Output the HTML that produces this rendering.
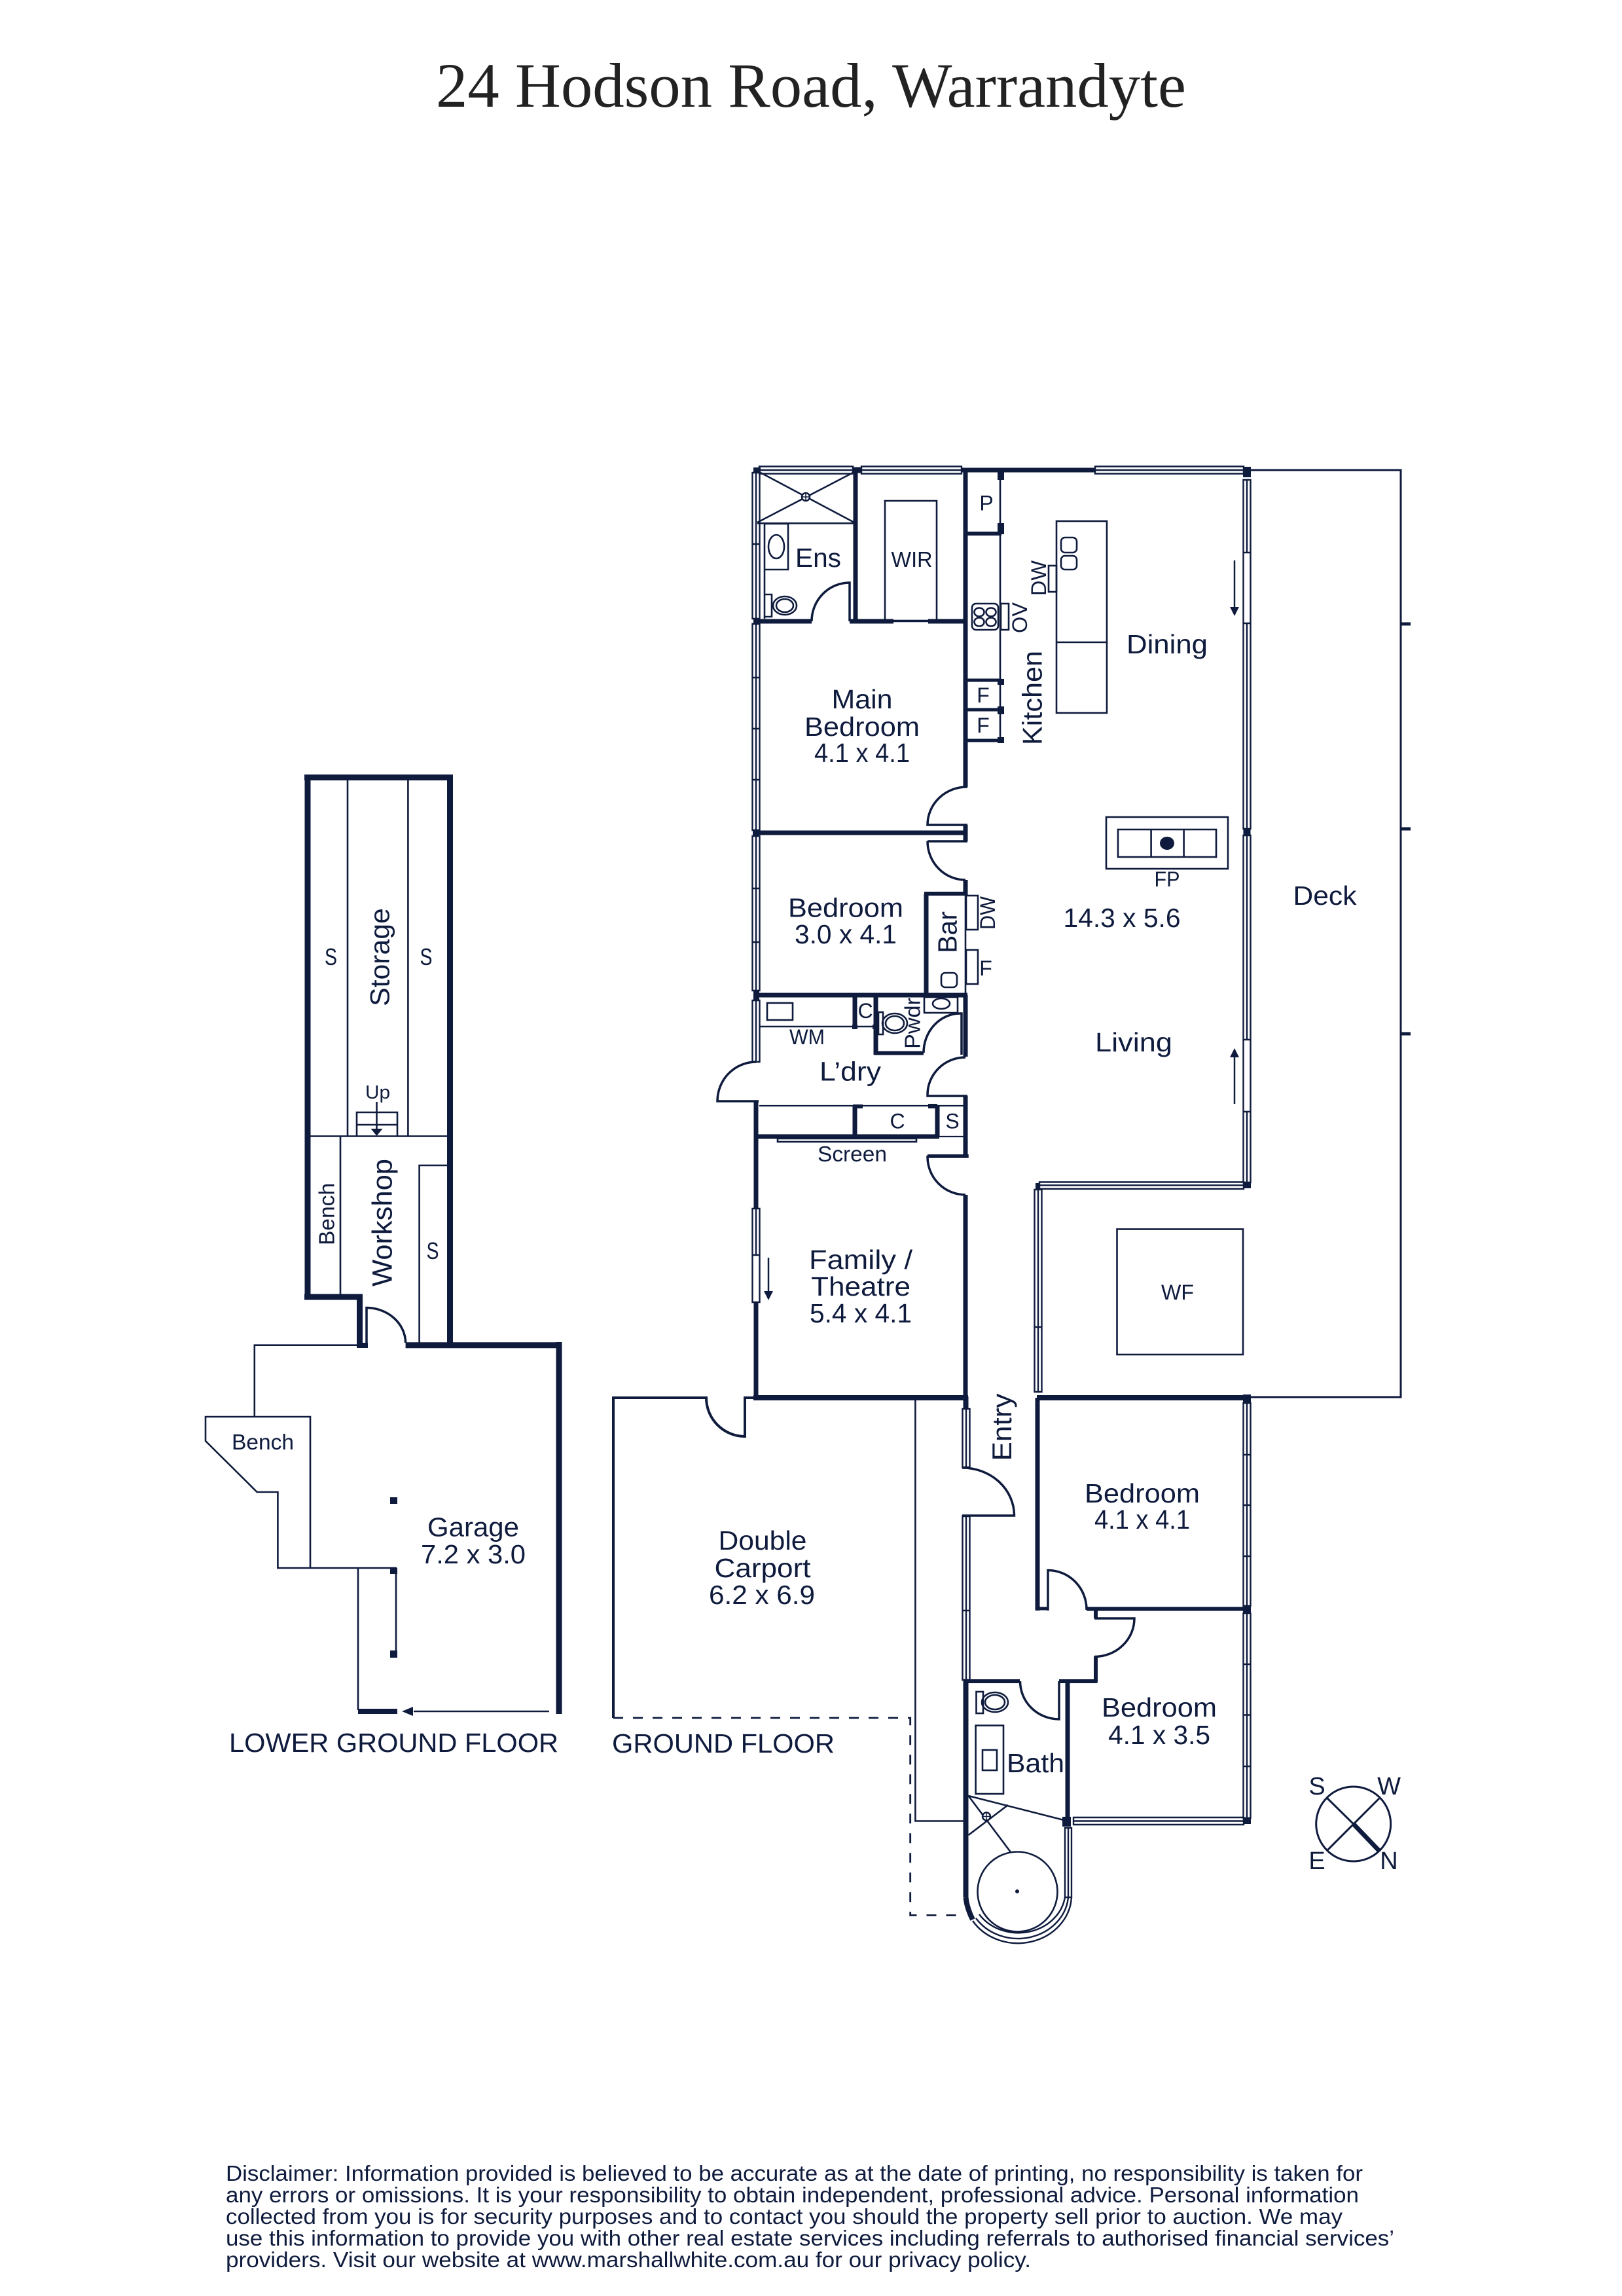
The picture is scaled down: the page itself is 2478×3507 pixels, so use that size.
<!DOCTYPE html>
<html lang="en"><head><meta charset="utf-8"><title>24 Hodson Road, Warrandyte</title>
<style>
html,body{margin:0;padding:0;background:#fff}
svg{display:block}
text{font-family:"Liberation Sans",sans-serif;fill:#0f1b3d;font-size:41px}
.c{text-anchor:middle}
.s{font-size:32px}
.f{fill:none;stroke:#0f1b3d;stroke-linecap:butt}
.t{stroke-width:2.6}
.w{stroke-width:2.4;fill:#fff}
.b{fill:#0f1b3d}
</style></head><body>
<svg width="2478" height="3507" viewBox="0 0 2478 3507" xmlns="http://www.w3.org/2000/svg">
<rect width="2478" height="3507" fill="#fff"/>
<text x="666" y="163" textLength="1146" lengthAdjust="spacingAndGlyphs" style="font-family:'Liberation Serif',serif;font-size:96px;fill:#222">24 Hodson Road, Warrandyte</text>

<!-- LOWER GROUND FLOOR -->
<g class="f">
<path stroke-width="9" d="M470 1183V1985M465 1981H554M549.5 1977V2059M687.5 1183V2056M465 1187.5H692M619.6 2054.7H858M854 2050V2618"/>
<path class="t" d="M531 1192V1735M623.4 1192V1735M474 1735.5H683M520 1735V1978M640.6 2051V1780H683"/>
<path class="t" d="M545 1735V1699H607V1735M545 1718H607M575.5 1683V1725"/>
<path stroke-width="3.5" d="M560 2059V1997.5A60 54 0 0 1 619.6 2051"/>
<path class="t" d="M545 2054.7H388.8V2164M314 2164H474V2395H424.4V2279H392.6L314 2201ZM424 2395H606M547 2395V2612M605 2400V2525M632 2614H839"/>
</g>
<path class="b" d="M575.5 1735l-9-11h18zM614 2614l17-7v14zM545 2051h17v8h-17zM596 2287h11v10h-11zM596 2395h11v9h-11zM596 2521h11v11h-11zM547 2610h60v8h-60z"/>
<text class="c s" x="577" y="1678" style="font-size:29px" textLength="38" lengthAdjust="spacingAndGlyphs">Up</text>
<text class="c" x="505.5" y="1474" style="font-size:36px" textLength="19" lengthAdjust="spacingAndGlyphs">S</text>
<text class="c" x="651" y="1474" style="font-size:36px" textLength="19" lengthAdjust="spacingAndGlyphs">S</text>
<text class="c" x="661" y="1923" style="font-size:36px" textLength="19" lengthAdjust="spacingAndGlyphs">S</text>
<text class="c" transform="translate(594.7 1462) rotate(-90)" style="font-size:42px" textLength="150" lengthAdjust="spacingAndGlyphs">Storage</text>
<text class="c" transform="translate(598.5 1867.5) rotate(-90)" style="font-size:43px" textLength="195" lengthAdjust="spacingAndGlyphs">Workshop</text>
<text class="c" transform="translate(510.5 1854.5) rotate(-90)" style="font-size:33px" textLength="95" lengthAdjust="spacingAndGlyphs">Bench</text>
<text class="c" x="401.5" y="2214" style="font-size:33px" textLength="95" lengthAdjust="spacingAndGlyphs">Bench</text>
<text class="c" x="723" y="2346.6" textLength="140" lengthAdjust="spacingAndGlyphs">Garage</text>
<text class="c" x="723" y="2388" textLength="160" lengthAdjust="spacingAndGlyphs">7.2 x 3.0</text>
<text x="350" y="2676" textLength="503" lengthAdjust="spacingAndGlyphs">LOWER GROUND FLOOR</text>
<text x="935" y="2677" textLength="340" lengthAdjust="spacingAndGlyphs">GROUND FLOOR</text>

<!-- CARPORT / DECK -->
<g class="f">
<path stroke-width="4" d="M937 2624V2135H1079A59 59 0 0 0 1138 2194V2135H1151"/>
<path stroke-width="2.8" stroke-dasharray="15 15" d="M937 2624H1390.7V2925.5H1472"/>
<path class="t" d="M1398.4 2137V2781.5H1472"/>
<path stroke-width="3" d="M1910 718H2140V2134H1903"/>
<path stroke-width="5" d="M2140 953H2155M2140 1266H2155M2140 1579H2155"/>
</g>
<text class="c" x="1165" y="2367" textLength="135" lengthAdjust="spacingAndGlyphs">Double</text>
<text class="c" x="1165" y="2409" textLength="147" lengthAdjust="spacingAndGlyphs">Carport</text>
<text class="c" x="1164" y="2450" textLength="162" lengthAdjust="spacingAndGlyphs">6.2 x 6.9</text>
<text class="c" x="2024" y="1382" textLength="97" lengthAdjust="spacingAndGlyphs">Deck</text>

<!-- WINDOWS -->
<path class="f w" d="M1149.5 722V945H1160.5V722ZM1155 722V945M1149.5 831H1160.5
M1149.5 953V1268H1160.5V953ZM1155 953V1268M1149.5 1035H1160.5M1149.5 1113H1160.5M1149.5 1191H1160.5
M1149.5 1277V1513H1160.5V1277ZM1155 1277V1513M1149.5 1357H1160.5M1149.5 1439H1160.5
M1149.5 1528V1622H1160.5V1528ZM1155 1528V1622
M1149.5 1846V1989H1160.5V1846ZM1155 1846V1917M1149.5 1917H1160.5
M1899.5 733V1266H1910.5V733ZM1905 733V844M1905 952V1266
M1899.5 844H1910.5V952H1899.5Z
M1899.5 1276V1806H1910.5V1276ZM1905 1276V1588M1905 1698V1806
M1899.5 1588H1910.5V1698H1899.5Z
M1899.5 2143V2453H1910.5V2143ZM1905 2143V2453M1899.5 2222H1910.5M1899.5 2299H1910.5M1899.5 2377H1910.5
M1899.5 2464V2777H1910.5V2464ZM1905 2464V2777M1899.5 2542H1910.5M1899.5 2619.5H1910.5M1899.5 2698H1910.5
M1580.5 1817V2126H1591.5V1817ZM1586 1817V2126M1580.5 2027H1591.5
M1470.5 2152V2241H1481.5V2152ZM1476 2152V2241
M1470.5 2316V2566H1481.5V2316ZM1476 2316V2566M1470.5 2460H1481.5
M1627 2792V2898H1637V2792ZM1632 2792V2898M1627 2898H1637
M1160 712.5H1303V723.5H1160ZM1160 718H1303
M1316 712.5H1469V723.5H1316ZM1316 718H1469
M1673 712.5H1900V723.5H1673ZM1673 718H1900
M1588 1805.5H1900V1816H1588ZM1588 1810.5H1900
M1640 2776H1900V2787H1640ZM1640 2781.5H1900"/>

<!-- WALLS -->
<g class="f">
<path stroke-width="7" d="M1469 718H1673M1307 718V949M1155 949H1240M1298 949H1365M1418 949H1478M1475 718V1202M1155 1272H1478M1475 1260V1285M1475 1344V1368M1415 1365V1520M1155 1520H1478M1306 1520V1571M1338 1520V1611M1475 1520V1614M1475 1674V1767M1155 1682V1846M1155 1989V2135M1306 1689V1736M1432 1689V1736M1155 1736H1435M1475 1825V2135M1585 2135V2460M1631 2568V2782"/>
<path stroke-width="6" d="M1475 815H1530M1412 1365H1478M1335 1608.5H1411M1473 2568H1558M1618 2568H1676M1674 2530V2570M1660 2457.5H1903M1674 2457V2472"/>
<path stroke-width="5" d="M1475 1039H1530M1475 1084H1530M1475 1131H1530M1583 2457H1601"/>
<path stroke-width="8" d="M1151 2135H1479M1584 2135H1903M1475.5 2133V2152M1475.5 2565V2898"/>
<path stroke-width="8" d="M1475.5 2898Q1477 2914 1486 2932"/>
<path stroke-width="3.5" d="M1478 1202A60 58 0 0 0 1417 1260H1478M1417 1285H1478M1417 1285A58 59 0 0 0 1475 1344
M1240 949A58 59 0 0 1 1298 890V949
M1411 1608A56 60 0 0 1 1467 1548H1469V1611
M1475 1615A58 57 0 0 0 1417 1672V1674H1478M1417 1765H1478V1767H1417A58 58 0 0 0 1475 1825
M1155 1622A59 60 0 0 0 1096 1682H1159
M1470 2242A79 73 0 0 1 1549.5 2315H1470
M1601 2460V2398.5A59 60 0 0 1 1660 2459
M1672 2472H1733A61 58.5 0 0 1 1672 2530.5
M1558.5 2568A59.5 58 0 0 0 1618 2626V2568"/>
<path class="t" d="M1528 722V1135M1475 1365V1520M1160 1568H1303M1310 1568H1340M1472 1689"/>
<path stroke-width="2.3" d="M1160 1689H1472M1435 1736H1472"/>
<path stroke-width="2.4" d="M1486 2934A82 74 0 0 0 1637 2898M1491 2930A77 69 0 0 0 1632 2898M1496 2924A72 64 0 0 0 1627 2898"/>
</g>
<path class="b" d="M1151 714h11v8h-11zM1302 713.5h13v9h-13zM1899 713h12v16h-12zM1524 715h10v18h-10zM1524 799h10v17h-10zM1524 1037h10v9h-10zM1524 1079h10v12h-10zM1524 1126h10v9h-10zM1151 945h9v9h-9zM1150 1267h10v10h-10zM1899.5 1266h11v10h-11zM1151 1514h9v14h-9zM1582 1807h7v11h-7zM1899 1806h12v9h-12zM1899 2130h12v13h-12zM1899 2453h12v11h-12zM1899 2776h12v10h-12zM1623 2775h13v15h-13zM1303 1687h15v6h-15zM1418 1686h14v7h-14zM1302 1565h8v7h-8zM1333 1565h8v7h-8z"/>

<!-- FIXTURES -->
<g class="f t">
<path d="M1162 722L1305 798M1303 722L1157 798M1157 799.3H1305"/>
<path d="M1168 800H1204V870H1168ZM1168 870V945M1168 908H1179V942H1168"/>
<ellipse cx="1186" cy="835" rx="12" ry="18"/>
<ellipse cx="1199" cy="925" rx="18" ry="14"/><ellipse cx="1199" cy="925" rx="13" ry="10"/>
<rect x="1352" y="765" width="79" height="183"/>
<path d="M1365 949H1418"/>
<rect x="1485" y="922" width="40" height="40" rx="6"/>
<ellipse cx="1496" cy="935" rx="7.5" ry="6.5"/><ellipse cx="1514" cy="935" rx="7.5" ry="6.5"/><ellipse cx="1496" cy="950" rx="7.5" ry="6.5"/><ellipse cx="1514" cy="950" rx="7.5" ry="6.5"/>
<rect x="1529" y="922" width="12" height="40"/>
<rect x="1602" y="864" width="12" height="40"/>
<rect x="1614" y="796" width="77" height="293"/><path d="M1614 981H1691"/>
<rect x="1621" y="821" width="24" height="23" rx="6"/><rect x="1621" y="849" width="24" height="21" rx="6"/>
<rect x="1690" y="1248" width="186" height="79"/><rect x="1708" y="1267" width="150" height="42"/>
<path d="M1758.6 1267V1309M1808.6 1267V1309"/>
<rect x="1476" y="1368" width="18" height="52"/><rect x="1476" y="1451" width="18" height="52"/>
<rect x="1438" y="1486" width="24" height="22" rx="6"/>
<rect x="1172" y="1532" width="39" height="26"/>
<rect x="1412" y="1523" width="51" height="24"/><ellipse cx="1438" cy="1533" rx="13" ry="8"/>
<rect x="1342" y="1546" width="7" height="34"/><ellipse cx="1367" cy="1563" rx="19" ry="15"/><ellipse cx="1367" cy="1563" rx="14" ry="11"/>
<rect x="1188" y="1739" width="212" height="5"/>
<rect x="1706.5" y="1877.5" width="192.5" height="191.5"/>
<rect x="1491.5" y="2584" width="10.5" height="33"/><ellipse cx="1520" cy="2600" rx="20" ry="15"/><ellipse cx="1520" cy="2600" rx="15" ry="11"/>
<rect x="1490.6" y="2635.6" width="42.4" height="104.4"/><rect x="1501" y="2673" width="22" height="31"/>
<path d="M1479.5 2743L1629 2781M1479.5 2743L1544 2829M1479.5 2803L1540 2757"/>
<circle cx="1554.5" cy="2889.5" r="61"/>
<circle cx="2067.7" cy="2786" r="57" stroke-width="3"/>
<path stroke-width="3" d="M2027 2746L2067.7 2786M2107 2747L2028 2826"/>
<path stroke-width="7" d="M2067.7 2786L2107 2827"/>
<path stroke-width="2.5" d="M1886 856V930M1886 1612V1686M1174 1921V1975"/>
</g>
<circle cx="1231" cy="759" r="6" fill="#fff" stroke="#0f1b3d" stroke-width="2.5"/>
<path class="f" stroke-width="1.5" d="M1225 759H1237M1231 753V765"/>
<circle cx="1507" cy="2774.5" r="6" fill="#fff" stroke="#0f1b3d" stroke-width="2.5"/>
<path class="f" stroke-width="1.5" d="M1501 2774.5H1513M1507 2768.5V2780.5"/>
<ellipse class="b" cx="1783" cy="1288" rx="11" ry="10"/>
<circle class="b" cx="1554" cy="2889" r="3"/>
<path class="b" d="M1886 941l-7-14h14zM1886 1601l-7 14h14zM1174 1986l-7-14h14z"/>

<!-- LABELS -->
<text class="c" x="1250" y="866" textLength="70" lengthAdjust="spacingAndGlyphs">Ens</text>
<text class="c s" x="1393" y="866" style="font-size:33px" textLength="63" lengthAdjust="spacingAndGlyphs">WIR</text>
<text class="c s" x="1507" y="779.5">P</text>
<text class="c s" x="1502" y="1073">F</text>
<text class="c s" x="1502" y="1119">F</text>
<text class="c s" transform="translate(1569 943.5) rotate(-90)" textLength="47" lengthAdjust="spacingAndGlyphs">OV</text>
<text class="c s" transform="translate(1598 883) rotate(-90)" textLength="54" lengthAdjust="spacingAndGlyphs">DW</text>
<text class="c" transform="translate(1591.7 1066) rotate(-90)" style="font-size:42px" textLength="144" lengthAdjust="spacingAndGlyphs">Kitchen</text>
<text class="c" x="1783" y="998" textLength="124" lengthAdjust="spacingAndGlyphs">Dining</text>
<text class="c" x="1317" y="1082" textLength="93" lengthAdjust="spacingAndGlyphs">Main</text>
<text class="c" x="1317" y="1124" textLength="176" lengthAdjust="spacingAndGlyphs">Bedroom</text>
<text class="c" x="1317" y="1164" textLength="146" lengthAdjust="spacingAndGlyphs">4.1 x 4.1</text>
<text class="c s" x="1783" y="1354" textLength="39" lengthAdjust="spacingAndGlyphs">FP</text>
<text class="c" x="1714" y="1416" textLength="179" lengthAdjust="spacingAndGlyphs">14.3 x 5.6</text>
<text class="c" x="1292" y="1400.5" textLength="176" lengthAdjust="spacingAndGlyphs">Bedroom</text>
<text class="c" x="1292" y="1441" textLength="156" lengthAdjust="spacingAndGlyphs">3.0 x 4.1</text>
<text class="c" transform="translate(1461.6 1424) rotate(-90)" textLength="64" lengthAdjust="spacingAndGlyphs">Bar</text>
<text class="c s" transform="translate(1520 1394.5) rotate(-90)" textLength="51" lengthAdjust="spacingAndGlyphs">DW</text>
<text class="c s" x="1506" y="1490">F</text>
<text class="c s" transform="translate(1405.5 1563) rotate(-90)" style="font-size:33px" textLength="78" lengthAdjust="spacingAndGlyphs">Pwdr</text>
<text class="c s" x="1322" y="1555">C</text>
<text class="c s" x="1233" y="1595" textLength="54" lengthAdjust="spacingAndGlyphs">WM</text>
<text class="c" x="1299" y="1650.7" textLength="94" lengthAdjust="spacingAndGlyphs">L’dry</text>
<text class="c s" x="1371" y="1723.5">C</text>
<text class="c s" x="1455" y="1723.5">S</text>
<text class="c" x="1302" y="1774" style="font-size:33px" textLength="106" lengthAdjust="spacingAndGlyphs">Screen</text>
<text class="c" x="1732" y="1606" textLength="118" lengthAdjust="spacingAndGlyphs">Living</text>
<text class="c" x="1315" y="1938" textLength="158" lengthAdjust="spacingAndGlyphs">Family /</text>
<text class="c" x="1315" y="1979" textLength="152" lengthAdjust="spacingAndGlyphs">Theatre</text>
<text class="c" x="1315" y="2020" textLength="156" lengthAdjust="spacingAndGlyphs">5.4 x 4.1</text>
<text class="c" x="1799" y="1985" style="font-size:32px" textLength="50" lengthAdjust="spacingAndGlyphs">WF</text>
<text class="c" transform="translate(1545 2180) rotate(-90)" style="font-size:42px" textLength="103" lengthAdjust="spacingAndGlyphs">Entry</text>
<text class="c" x="1745" y="2295" textLength="176" lengthAdjust="spacingAndGlyphs">Bedroom</text>
<text class="c" x="1745" y="2335" textLength="146" lengthAdjust="spacingAndGlyphs">4.1 x 4.1</text>
<text class="c" x="1771" y="2622" textLength="176" lengthAdjust="spacingAndGlyphs">Bedroom</text>
<text class="c" x="1771" y="2664" textLength="156" lengthAdjust="spacingAndGlyphs">4.1 x 3.5</text>
<text class="c" x="1582" y="2707" textLength="88" lengthAdjust="spacingAndGlyphs">Bath</text>
<text class="c" x="2012" y="2741" style="font-size:38px">S</text>
<text class="c" x="2122" y="2741" style="font-size:38px">W</text>
<text class="c" x="2012" y="2855" style="font-size:38px">E</text>
<text class="c" x="2122" y="2855" style="font-size:38px">N</text>

<!-- DISCLAIMER -->
<g style="font-size:33px">
<text x="345" y="3331" style="font-size:33px" textLength="1737" lengthAdjust="spacingAndGlyphs">Disclaimer: Information provided is believed to be accurate as at the date of printing, no responsibility is taken for</text>
<text x="345" y="3364" style="font-size:33px" textLength="1731" lengthAdjust="spacingAndGlyphs">any errors or omissions. It is your responsibility to obtain independent, professional advice. Personal information</text>
<text x="345" y="3397" style="font-size:33px" textLength="1706" lengthAdjust="spacingAndGlyphs">collected from you is for security purposes and to contact you should the property sell prior to auction. We may</text>
<text x="345" y="3430" style="font-size:33px" textLength="1785" lengthAdjust="spacingAndGlyphs">use this information to provide you with other real estate services including referrals to authorised financial services’</text>
<text x="345" y="3463" style="font-size:33px" textLength="1230" lengthAdjust="spacingAndGlyphs">providers. Visit our website at www.marshallwhite.com.au for our privacy policy.</text>
</g>
</svg>
</body></html>
